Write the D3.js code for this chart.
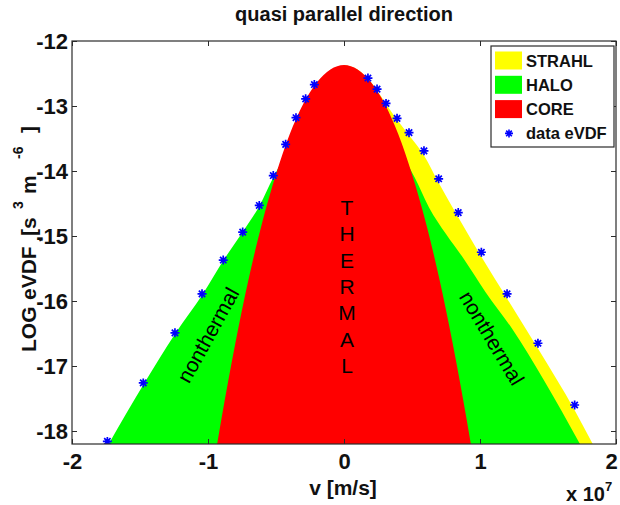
<!DOCTYPE html>
<html>
<head>
<meta charset="utf-8">
<script src="https://cdn.jsdelivr.net/npm/d3@7"></script>
<style>
  body { margin: 0; background: #fff; }
  text { font-family: "Liberation Sans", Arial, sans-serif; }
</style>
</head>
<body>
<svg id="chart" width="620" height="505"></svg>
<script>
// Velocity in units of 1e7 m/s, log10 of the eVDF in s^3 m^-6.

// Core (thermal) upper envelope
const coreV   = [-0.94, -0.9, -0.8, -0.7, -0.6, -0.5, -0.4, -0.3, -0.2, -0.1, 0, 0.1, 0.2, 0.3, 0.4, 0.5, 0.6, 0.7, 0.8, 0.9, 0.94];
const coreLog = [-18.29, -17.80, -16.66, -15.65, -14.78, -14.05, -13.44, -12.97, -12.64, -12.44, -12.37, -12.44, -12.64, -12.97, -13.44, -14.05, -14.78, -15.65, -16.66, -17.80, -18.29];

// Core + halo envelope
const haloV   = [-1.73, -1.47, -1.24, -1.04, -0.885, -0.745, -0.62, -0.52, -0.42, 0, 0.42, 0.52, 0.625, 0.75, 0.88, 1.04, 1.24, 1.47, 1.735];
const haloLog = [-18.2, -17.27, -16.50, -15.90, -15.37, -14.94, -14.53, -14.10, -13.75, -13.3, -13.75, -14.10, -14.56, -14.97, -15.35, -15.86, -16.44, -17.22, -18.2];

// Core + halo + strahl envelope (anti-sunward side only)
const strahlV   = [0, 0.1, 0.2, 0.25, 0.309, 0.39, 0.478, 0.588, 0.696, 0.84, 1.01, 1.199, 1.426, 1.696, 1.829];
const strahlLog = [-12.37, -12.44, -12.64, -12.78, -12.97, -13.21, -13.45, -13.76, -14.18, -14.71, -15.32, -15.96, -16.73, -17.68, -18.2];

// Measured eVDF samples
const dataV   = [-1.740, -1.476, -1.243, -1.044, -0.888, -0.745, -0.623, -0.520, -0.429, -0.353, -0.282, -0.218,
                 0.176, 0.243, 0.309, 0.390, 0.478, 0.588, 0.696, 0.840, 1.010, 1.199, 1.426, 1.696];
const dataLog = [-18.16, -17.26, -16.49, -15.89, -15.37, -14.94, -14.53, -14.07, -13.59, -13.18, -12.89, -12.67,
                 -12.57, -12.74, -12.96, -13.19, -13.41, -13.69, -14.12, -14.64, -15.25, -15.89, -16.65, -17.60];

const xTicks = [-2, -1, 0, 1, 2];
const yTicks = [-18, -17, -16, -15, -14, -13, -12];
const legendLabels = ["STRAHL", "HALO", "CORE", "data eVDF"];
const legendColors = ["#ffff00", "#00ff00", "#ff0000", "#0000ff"];

const plot = { left: 72, right: 616, top: 41, bottom: 444 };
const svg = d3.select("#chart");

const x = d3.scaleLinear().domain([-2, 2]).range([plot.left, plot.right]);
const y = d3.scaleLinear().domain([-18.2, -12]).range([plot.bottom, plot.top]);

svg.append("defs").append("clipPath").attr("id", "plotClip")
  .append("rect")
  .attr("x", plot.left).attr("y", plot.top)
  .attr("width", plot.right - plot.left).attr("height", plot.bottom - plot.top);

const zipPts = (vs, ls) => vs.map((v, i) => [v, ls[i]]);

const area = d3.area()
  .x(d => x(d[0]))
  .y0(plot.bottom)
  .y1(d => y(d[1]))
  .curve(d3.curveMonotoneX);

const fills = svg.append("g").attr("clip-path", "url(#plotClip)");
fills.append("path").datum(zipPts(strahlV, strahlLog)).attr("d", area).attr("fill", legendColors[0]);
fills.append("path").datum(zipPts(haloV, haloLog)).attr("d", area).attr("fill", legendColors[1]);
fills.append("path").datum(zipPts(coreV, coreLog)).attr("d", area).attr("fill", legendColors[2]);

// Region annotations
const thermal = "THERMAL".split("");
svg.append("g").selectAll("text").data(thermal).join("text")
  .attr("x", 347)
  .attr("y", (d, i) => 215 + i * 26.3)
  .attr("text-anchor", "middle")
  .attr("font-size", 21)
  .attr("fill", "#000")
  .text(d => d);

svg.append("text")
  .attr("transform", "translate(208,335) rotate(-61)")
  .attr("text-anchor", "middle").attr("dominant-baseline", "central")
  .attr("font-size", 21).text("nonthermal");

svg.append("text")
  .attr("transform", "translate(492,338) rotate(59)")
  .attr("text-anchor", "middle").attr("dominant-baseline", "central")
  .attr("font-size", 21).text("nonthermal");

// Asterisk marker
const star = r => {
  const d = r * Math.SQRT1_2;
  return `M${-r},0L${r},0M0,${-r}L0,${r}M${-d},${-d}L${d},${d}M${-d},${d}L${d},${-d}`;
};

svg.append("g").attr("clip-path", "url(#plotClip)")
  .selectAll("path").data(zipPts(dataV, dataLog)).join("path")
  .attr("transform", d => `translate(${x(d[0])},${y(d[1])})`)
  .attr("d", star(4.5))
  .attr("fill", "none")
  .attr("stroke", legendColors[3])
  .attr("stroke-width", 1.7);

// Frame and axes (ticks point inward on all four sides)
const axisColor = "#2b2b2b";
const tickText = d => String(d);
const styleAxis = g => {
  g.select(".domain").remove();
  g.selectAll(".tick line").attr("stroke", axisColor);
  g.selectAll(".tick text").attr("fill", "#111").attr("font-weight", "bold").attr("font-size", 22)
    .attr("font-family", "'Liberation Sans', Arial, sans-serif");
};

const xAxisG = svg.append("g").attr("transform", `translate(0,${plot.bottom})`)
  .call(d3.axisBottom(x).tickValues(xTicks).tickFormat(tickText).tickSizeInner(-5).tickSizeOuter(0).tickPadding(9))
  .call(styleAxis);
// keep the last label inside the page edge
xAxisG.selectAll(".tick text").filter(d => d === xTicks[xTicks.length - 1]).attr("dx", -5);

svg.append("g").attr("transform", `translate(0,${plot.top})`)
  .call(d3.axisTop(x).tickValues(xTicks).tickFormat("").tickSizeInner(-5).tickSizeOuter(0))
  .call(styleAxis);
svg.append("g").attr("transform", `translate(${plot.left},0)`)
  .call(d3.axisLeft(y).tickValues(yTicks).tickFormat(tickText).tickSizeInner(-5).tickSizeOuter(0).tickPadding(4))
  .call(styleAxis);
svg.append("g").attr("transform", `translate(${plot.right},0)`)
  .call(d3.axisRight(y).tickValues(yTicks).tickFormat("").tickSizeInner(-5).tickSizeOuter(0))
  .call(styleAxis);

svg.append("rect")
  .attr("x", plot.left).attr("y", plot.top)
  .attr("width", plot.right - plot.left).attr("height", plot.bottom - plot.top)
  .attr("fill", "none").attr("stroke", axisColor).attr("stroke-width", 1.2);

// Title and axis labels
svg.append("text").attr("x", 344).attr("y", 21).attr("text-anchor", "middle")
  .attr("font-size", 20).attr("font-weight", "bold").attr("fill", "#111")
  .text("quasi parallel direction");

svg.append("text").attr("x", 343).attr("y", 495).attr("text-anchor", "middle")
  .attr("font-size", 21).attr("font-weight", "bold").attr("fill", "#111")
  .text("v [m/s]");

const exp = svg.append("text").attr("x", 566).attr("y", 501)
  .attr("font-size", 20).attr("font-weight", "bold").attr("fill", "#111");
exp.append("tspan").text("x 10");
exp.append("tspan").attr("dy", -10).attr("font-size", 13).text("7");

// y label: pieces placed along the rotated baseline
const yl = svg.append("text")
  .attr("transform", "translate(36,352) rotate(-90)")
  .attr("font-size", 21).attr("font-weight", "bold").attr("fill", "#111");
yl.append("tspan").attr("x", 0).attr("y", 0).text("LOG");
yl.append("tspan").attr("x", 47).attr("y", 5).attr("font-size", 11).text(",");
yl.append("tspan").attr("x", 52).attr("y", 0).text("eVDF");
yl.append("tspan").attr("x", 110).attr("y", 5).attr("font-size", 11).text(",");
yl.append("tspan").attr("x", 116).attr("y", 0).text("[s");
yl.append("tspan").attr("x", 143).attr("y", -13).attr("font-size", 14).text("3");
yl.append("tspan").attr("x", 158).attr("y", 0).text("m");
yl.append("tspan").attr("x", 193).attr("y", -13).attr("font-size", 14).text("-6");
yl.append("tspan").attr("x", 219).attr("y", 0).text("]");

// Legend
const lg = svg.append("g");
lg.append("rect").attr("x", 491).attr("y", 46).attr("width", 123).attr("height", 101)
  .attr("fill", "#fff").attr("stroke", axisColor).attr("stroke-width", 1.2);
legendLabels.forEach((lab, i) => {
  const cy = 60.5 + i * 24.3;
  if (i < 3) {
    lg.append("rect").attr("x", 495).attr("y", cy - 9).attr("width", 27).attr("height", 18)
      .attr("fill", legendColors[i]);
  } else {
    lg.append("path").attr("transform", `translate(509,${cy})`).attr("d", star(4))
      .attr("fill", "none").attr("stroke", legendColors[i]).attr("stroke-width", 1.6);
  }
  lg.append("text").attr("x", 526).attr("y", cy).attr("dominant-baseline", "central")
    .attr("font-size", 16.5).attr("font-weight", "bold").attr("fill", "#111").text(lab);
});
</script>
</body>
</html>
